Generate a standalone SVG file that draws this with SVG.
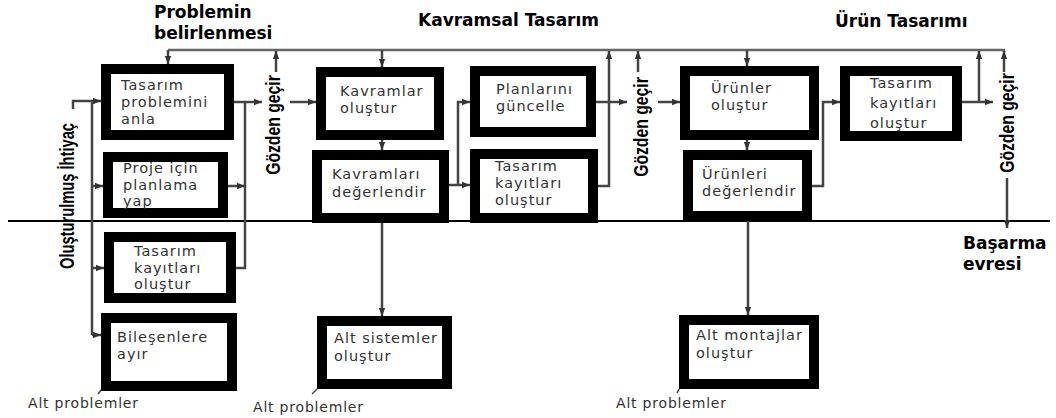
<svg xmlns="http://www.w3.org/2000/svg" width="1056" height="418" viewBox="0 0 1056 418">
<style>
.box{fill:#fff;stroke:#000;stroke-width:10}
.lbl{font-family:"DejaVu Sans",sans-serif;font-size:14.5px;letter-spacing:1px;fill:#333}
.ttl{font-family:"DejaVu Sans",sans-serif;font-size:17px;font-weight:bold;fill:#000}
.rot{font-family:"Liberation Sans",Arial,sans-serif;font-size:21px;font-weight:bold;fill:#000;text-anchor:middle}
.sub{font-family:"DejaVu Sans",sans-serif;font-size:14px;letter-spacing:0.8px;fill:#333}
.c{fill:none;stroke:#444;stroke-width:2.5}
.bus{fill:none;stroke:#666;stroke-width:2.5}
.a{marker-end:url(#ah)}
</style>
<defs>
<marker id="ah" viewBox="0 0 10 10" refX="10" refY="5" markerWidth="8" markerHeight="8" markerUnits="userSpaceOnUse" orient="auto">
<path d="M0,1 L10,5 L0,9 z" fill="#333"/>
</marker>
</defs>
<rect width="1056" height="418" fill="#fff"/>

<!-- titles -->
<g id="titles">
<text class="ttl" x="154" y="18">Problemin</text>
<text class="ttl" x="154" y="39">belirlenmesi</text>
<text class="ttl" x="418" y="26">Kavramsal Tasarım</text>
<text class="ttl" x="835" y="27">Ürün Tasarımı</text>
<text class="ttl" x="963" y="249">Başarma</text>
<text class="ttl" x="963" y="270">evresi</text>
<text class="rot" transform="translate(74,196) rotate(-90) scale(0.70,1)">Oluşturulmuş İhtiyaç</text>
<text class="rot" transform="translate(280,125) rotate(-90) scale(0.75,1)">Gözden geçir</text>
<text class="rot" transform="translate(648,127) rotate(-90) scale(0.75,1)">Gözden geçir</text>
<text class="rot" transform="translate(1014,123) rotate(-90) scale(0.75,1)">Gözden geçir</text>
<text class="sub" x="28" y="408">Alt problemler</text>
<text class="sub" x="253" y="412">Alt problemler</text>
<text class="sub" x="616" y="408">Alt problemler</text>
</g>

<!-- divider -->
<line x1="8" y1="221" x2="1050" y2="221" stroke="#000" stroke-width="2"/>

<!-- connectors -->
<g id="connectors">
<path class="bus" d="M168,50 H1005"/>
<path class="c a" d="M168,50 V64"/>
<path class="c" d="M73,109 V101 H92"/>
<path class="c a" d="M92,101 H101"/>
<path class="c" d="M92,101 V335"/>
<path class="c a" d="M92,186 H103"/>
<path class="c a" d="M92,268 H104"/>
<path class="c a" d="M92,335 H101"/>
<path class="c a" d="M234,102 H262"/>
<path class="c" d="M245,102 V268 H236"/>
<path class="c a" d="M228,186 H245"/>
<path class="c a" d="M276,72 V51"/>
<path class="c a" d="M290,102 H316"/>
<path class="c a" d="M382,50 V67"/>
<path class="c a" d="M382,140 V150"/>
<path class="c a" d="M382,223 V316"/>
<path class="c a" d="M449,185 H470"/>
<path class="c a" d="M458,185 V102 H470"/>
<path class="c a" d="M596,102 H627"/>
<path class="c a" d="M598,186 H609 V51"/>
<path class="c a" d="M638,72 V51"/>
<path class="c a" d="M658,102 H680"/>
<path class="c a" d="M747,50 V66"/>
<path class="c a" d="M747,140 V150"/>
<path class="c a" d="M748,221 V315"/>
<path class="c a" d="M812,186 H823 V102 H840"/>
<path class="c a" d="M962,102 H993"/>
<path class="c a" d="M979,102 V51"/>
<path class="c a" d="M1004,72 V51"/>
<path class="c a" d="M1007,178 V228"/>
<path class="c" d="M102,389 L98,394" style="stroke-width:1.5"/>
<path class="c" d="M317,389 L312,394" style="stroke-width:1.5"/>
<path class="c" d="M679,389 L677,393" style="stroke-width:1.5"/>
</g>

<!-- nodes -->
<g id="n1"><rect class="box" x="106" y="69" width="123" height="66"/>
<text class="lbl" x="121" y="90">Tasarım</text><text class="lbl" x="121" y="107">problemini</text><text class="lbl" x="121" y="124">anla</text></g>
<g id="n2"><rect class="box" x="108" y="157" width="115" height="56"/>
<text class="lbl" x="123" y="173">Proje için</text><text class="lbl" x="123" y="190">planlama</text><text class="lbl" x="123" y="206">yap</text></g>
<g id="n3"><rect class="box" x="109" y="237" width="122" height="61"/>
<text class="lbl" x="134" y="256">Tasarım</text><text class="lbl" x="134" y="273">kayıtları</text><text class="lbl" x="134" y="289">oluştur</text></g>
<g id="n4"><rect class="box" x="106" y="318" width="126" height="68"/>
<text class="lbl" x="117" y="342">Bileşenlere</text><text class="lbl" x="117" y="359">ayır</text></g>
<g id="n5"><rect class="box" x="321" y="72" width="118" height="63"/>
<text class="lbl" x="340" y="96">Kavramlar</text><text class="lbl" x="340" y="113">oluştur</text></g>
<g id="n6"><rect class="box" x="317" y="155" width="127" height="63"/>
<text class="lbl" x="332" y="179">Kavramları</text><text class="lbl" x="332" y="197">değerlendir</text></g>
<g id="n7"><rect class="box" x="475" y="71" width="116" height="61"/>
<text class="lbl" x="496" y="94">Planlarını</text><text class="lbl" x="496" y="111">güncelle</text></g>
<g id="n8"><rect class="box" x="475" y="154" width="118" height="64"/>
<text class="lbl" x="495" y="171">Tasarım</text><text class="lbl" x="495" y="188">kayıtları</text><text class="lbl" x="495" y="205">oluştur</text></g>
<g id="n9"><rect class="box" x="322" y="321" width="125" height="63"/>
<text class="lbl" x="334" y="343">Alt sistemler</text><text class="lbl" x="334" y="361">oluştur</text></g>
<g id="n10"><rect class="box" x="685" y="71" width="129" height="64"/>
<text class="lbl" x="711" y="93">Ürünler</text><text class="lbl" x="711" y="110">oluştur</text></g>
<g id="n11"><rect class="box" x="688" y="155" width="119" height="61"/>
<text class="lbl" x="702" y="179">Ürünleri</text><text class="lbl" x="702" y="196">değerlendir</text></g>
<g id="n12"><rect class="box" x="845" y="71" width="112" height="65"/>
<text class="lbl" x="870" y="88">Tasarım</text><text class="lbl" x="870" y="108">kayıtları</text><text class="lbl" x="870" y="128">oluştur</text></g>
<g id="n13"><rect class="box" x="684" y="320" width="130" height="64"/>
<text class="lbl" x="696" y="340">Alt montajlar</text><text class="lbl" x="696" y="358">oluştur</text></g>
</svg>
